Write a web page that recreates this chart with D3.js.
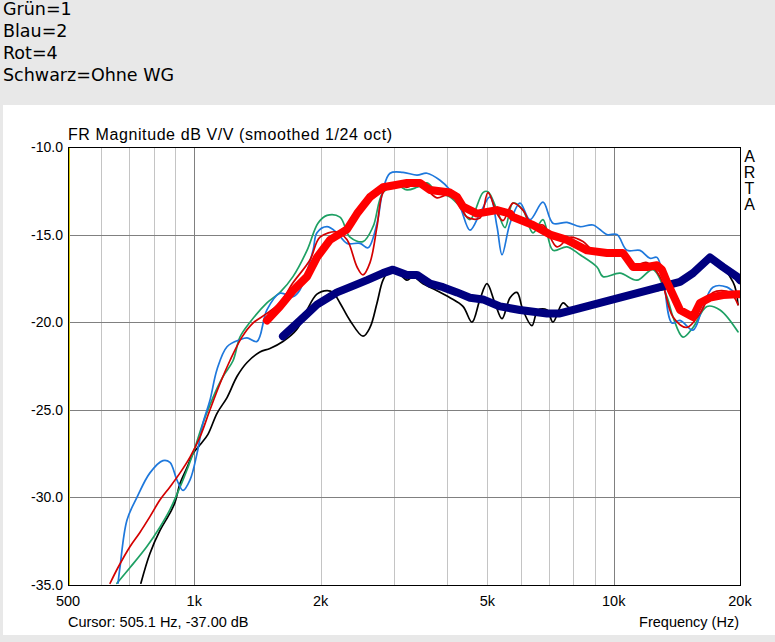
<!DOCTYPE html>
<html>
<head>
<meta charset="utf-8">
<script src="https://cdn.jsdelivr.net/npm/d3@7"></script>
<style>
  body { margin: 0; background: #e8e8e8; }
  svg { display: block; }
</style>
</head>
<body>
<div id="chart"></div>
<script>
// legend lines above the plot
const notes = ["Grün=1", "Blau=2", "Rot=4", "Schwarz=Ohne WG"];

const yTicks = [-10, -15, -20, -25, -30, -35];
const xTicks = [500, 1000, 2000, 5000, 10000, 20000];
const xTickLabels = ["500", "1k", "2k", "5k", "10k", "20k"];
const minorGrid = [600, 700, 800, 900, 2000, 3000, 4000, 5000, 6000, 7000, 8000, 9000];
const majorGrid = [1000, 10000];

// [frequency Hz, dB]
const black = [[746,-34.9],[784,-33.2],[828,-31.9],[875,-30.9],[899,-30.3],[925,-29.2],[961,-28.3],[993,-27.5],
  [1032,-27.0],[1078,-26.4],[1133,-25.2],[1197,-24.3],[1264,-23.1],[1336,-22.3],[1434,-21.7],[1515,-21.5],
  [1627,-21.1],[1757,-20.4],[1857,-19.3],[1961,-18.4],[2072,-18.2],[2141,-18.3],[2225,-18.9],[2351,-19.9],
  [2525,-20.8],[2624,-20.3],[2727,-18.9],[2818,-17.6],[2929,-17.0],[3043,-17.1],[3215,-17.6],[3323,-17.4],
  [3510,-17.8],[3790,-18.2],[4070,-18.6],[4371,-19.1],[4593,-20.0],[4798,-18.7],[4986,-17.8],[5209,-18.9],
  [5416,-19.8],[5660,-18.6],[5879,-18.3],[6074,-19.3],[6383,-20.2],[6597,-19.3],[6933,-19.3],[7163,-20.0],
  [7568,-18.9],[7866,-19.2],[9273,-19.0],[11548,-18.4],[14386,-17.8],[16961,-16.3],[19243,-17.7],[19778,-19.0]];

const navy = [[1627,-20.8],[1787,-19.9],[1961,-19.0],[2189,-18.3],[2351,-18.0],[2582,-17.6],[2818,-17.2],
  [2977,-17.0],[3215,-17.3],[3396,-17.3],[3648,-17.8],[3917,-18.0],[4230,-18.3],[4543,-18.6],[4878,-18.7],
  [5357,-19.1],[5977,-19.3],[6933,-19.5],[7444,-19.5],[8311,-19.2],[9273,-18.9],[10349,-18.6],[11548,-18.3],
  [12888,-18.0],[14386,-17.7],[15452,-17.2],[16961,-16.3],[18217,-16.85],[19670,-17.4],[20000,-17.6]];

const redThick = [[1490,-19.9],[1601,-19.1],[1719,-18.2],[1857,-17.4],[1961,-16.3],[2107,-15.3],[2313,-14.7],
  [2444,-13.8],[2624,-12.85],[2818,-12.3],[2977,-12.2],[3215,-12.05],[3453,-12.05],[3648,-12.45],[4070,-12.6],
  [4230,-12.85],[4371,-13.4],[4721,-13.8],[5270,-13.6],[5660,-13.8],[5751,-14.0],[6419,-14.45],[7048,-15.0],
  [7736,-15.3],[8637,-15.9],[9636,-16.05],[10521,-16.05],[11115,-16.85],[12001,-16.85],[12678,-16.75],
  [13031,-17.0],[13394,-17.7],[14386,-19.3],[15452,-19.7],[16053,-18.9],[16961,-18.6],[18217,-18.45],
  [19670,-18.4],[20000,-18.4]];

const red = [[630,-34.9],[658,-34.0],[703,-32.8],[742,-32.0],[784,-31.1],[828,-30.15],[875,-29.4],[925,-28.6],
  [977,-27.7],[1032,-26.55],[1090,-25.0],[1152,-23.5],[1216,-22.2],[1299,-20.85],[1380,-20.05],[1490,-19.5],
  [1601,-18.9],[1719,-17.75],[1887,-16.45],[1994,-15.15],[2189,-14.85],[2313,-15.3],[2444,-16.85],[2525,-17.3],
  [2624,-16.6],[2727,-14.55],[2818,-12.6],[2977,-12.05],[3215,-12.3],[3396,-12.05],[3588,-12.45],[3790,-12.9],
  [4004,-12.75],[4230,-13.0],[4468,-14.0],[4798,-14.05],[5014,-12.6],[5270,-13.8],[5447,-14.2],[5751,-13.2],
  [6074,-13.6],[6419,-14.55],[6781,-14.45],[7323,-15.7],[7866,-15.15],[8449,-15.4],[8926,-15.9],[9636,-16.0],
  [10521,-16.0],[11115,-16.75],[12001,-16.6],[12888,-17.4],[13845,-19.7],[14948,-20.3],[16053,-19.5],
  [17243,-18.3],[18930,-18.3],[19778,-19.0]];

const green = [[654,-34.9],[703,-34.0],[771,-32.8],[828,-31.7],[875,-30.7],[940,-29.0],[993,-27.5],[1049,-25.75],
  [1108,-24.3],[1171,-23.1],[1237,-22.2],[1285,-20.85],[1358,-20.0],[1490,-18.9],[1601,-18.3],[1719,-17.4],
  [1857,-15.9],[1972,-14.35],[2072,-13.9],[2225,-14.0],[2351,-15.15],[2525,-15.4],[2668,-14.55],[2818,-12.6],
  [3043,-12.2],[3215,-12.45],[3396,-12.3],[3588,-12.05],[3790,-12.6],[4070,-12.85],[4300,-13.4],[4543,-14.15],
  [4878,-12.6],[5014,-12.55],[5270,-13.6],[5507,-14.6],[5751,-13.2],[6074,-13.6],[6419,-14.9],[6781,-14.15],
  [7163,-15.9],[7736,-15.7],[8311,-16.15],[9122,-16.85],[9427,-17.4],[10349,-17.2],[11362,-17.6],[12402,-17.0],
  [13394,-18.55],[13845,-19.7],[14624,-20.85],[15452,-20.3],[16684,-19.1],[17920,-19.3],[19778,-20.55]];

const blue = [[658,-34.9],[665,-34.0],[691,-31.3],[730,-30.0],[784,-28.6],[842,-27.9],[875,-28.0],[909,-29.0],
  [940,-29.6],[977,-29.0],[1015,-27.5],[1049,-25.75],[1090,-24.45],[1133,-22.7],[1197,-21.4],[1285,-21.0],
  [1336,-20.9],[1411,-21.1],[1490,-19.3],[1601,-18.35],[1719,-18.55],[1787,-18.15],[1919,-15.9],[1961,-14.9],
  [2072,-14.55],[2189,-14.9],[2313,-15.5],[2484,-15.5],[2596,-15.75],[2727,-14.35],[2818,-12.45],[2929,-11.5],
  [3145,-11.45],[3396,-11.6],[3588,-11.5],[3853,-11.9],[4070,-12.45],[4300,-13.4],[4543,-14.75],[4798,-13.8],
  [5070,-12.85],[5270,-14.55],[5416,-16.15],[5660,-14.35],[5977,-13.2],[6313,-14.15],[6781,-13.15],[7163,-14.35],
  [7736,-14.3],[8311,-14.55],[8926,-14.45],[9636,-15.0],[10180,-15.0],[10755,-15.9],[11548,-15.9],[12200,-16.35],
  [12678,-16.3],[13103,-17.4],[13769,-20.05],[14386,-19.9],[15452,-20.45],[16229,-19.3],[17243,-18.0],
  [18621,-18.0],[19778,-18.55]];

const width = 775, height = 642;
const pLeft = 68, pRight = 740, pTop = 147, pBottom = 585;

const svg = d3.select("#chart")
    .append("svg")
    .attr("width", width)
    .attr("height", height);

svg.append("rect").attr("width", width).attr("height", height).attr("fill", "#e8e8e8");
svg.append("rect")
    .attr("x", 3).attr("y", 105)
    .attr("width", width - 3).attr("height", 530)
    .attr("fill", "#ffffff");

svg.selectAll("text.note")
    .data(notes)
    .enter().append("text")
    .attr("class", "note")
    .attr("x", 3)
    .attr("y", (d, i) => 14.5 + i * 22)
    .attr("font-family", "DejaVu Sans, Verdana, sans-serif")
    .attr("font-size", 17.5)
    .attr("fill", "#000")
    .text(d => d);

const x = d3.scaleLog().domain([500, 20000]).range([pLeft, pRight]);
const y = d3.scaleLinear().domain([-35, -10]).range([pBottom, pTop]);

const grid = svg.append("g");
grid.selectAll("line.minor")
    .data(minorGrid)
    .enter().append("line")
    .attr("x1", d => Math.round(x(d)) + 0.5).attr("x2", d => Math.round(x(d)) + 0.5)
    .attr("y1", pTop).attr("y2", pBottom)
    .attr("stroke", "#c4c4c4");
grid.selectAll("line.major")
    .data(majorGrid)
    .enter().append("line")
    .attr("x1", d => Math.round(x(d)) + 0.5).attr("x2", d => Math.round(x(d)) + 0.5)
    .attr("y1", pTop).attr("y2", pBottom)
    .attr("stroke", "#808080");
grid.selectAll("line.h")
    .data(yTicks.slice(1, -1))
    .enter().append("line")
    .attr("x1", pLeft).attr("x2", pRight)
    .attr("y1", d => Math.round(y(d)) + 0.5).attr("y2", d => Math.round(y(d)) + 0.5)
    .attr("stroke", "#808080");

// clip curves to plot area
svg.append("clipPath").attr("id", "plot")
    .append("rect").attr("x", pLeft).attr("y", pTop)
    .attr("width", pRight - pLeft).attr("height", pBottom - pTop);

const thin = d3.line().x(d => x(d[0])).y(d => y(d[1])).curve(d3.curveCatmullRom.alpha(0.5));
const thick = d3.line().x(d => x(d[0])).y(d => y(d[1])).curve(d3.curveLinear);

const curves = svg.append("g").attr("clip-path", "url(#plot)");
const series = [
    { data: black, color: "#000000", w: 1.7, line: thin },
    { data: green, color: "#1ea064", w: 1.7, line: thin },
    { data: blue, color: "#1e78dc", w: 1.7, line: thin },
    { data: red, color: "#d40000", w: 1.7, line: thin },
    { data: navy, color: "#00007f", w: 8, line: thick },
    { data: redThick, color: "#ff0000", w: 8, line: thick }
];
series.forEach(s => {
    curves.append("path")
        .attr("d", s.line(s.data))
        .attr("fill", "none")
        .attr("stroke", s.color)
        .attr("stroke-width", s.w)
        .attr("stroke-linejoin", "round")
        .attr("stroke-linecap", "round");
});

// frame
svg.append("rect")
    .attr("x", pLeft + 0.5).attr("y", pTop + 0.5)
    .attr("width", pRight - pLeft).attr("height", pBottom - pTop)
    .attr("fill", "none").attr("stroke", "#000");
svg.append("line")
    .attr("x1", pLeft + 1.5).attr("x2", pLeft + 1.5)
    .attr("y1", pTop + 1).attr("y2", pBottom)
    .attr("stroke", "#d8c800");

const font = "Arial, Liberation Sans, sans-serif";

svg.selectAll("text.ytick")
    .data(yTicks)
    .enter().append("text")
    .attr("x", 63)
    .attr("y", d => y(d) + 5)
    .attr("text-anchor", "end")
    .attr("font-family", font).attr("font-size", 14)
    .text(d => d.toFixed(1));

svg.selectAll("text.xtick")
    .data(xTicks)
    .enter().append("text")
    .attr("x", d => x(d))
    .attr("y", 606)
    .attr("text-anchor", "middle")
    .attr("font-family", font).attr("font-size", 14.5)
    .text((d, i) => xTickLabels[i]);

svg.append("text")
    .attr("x", 68).attr("y", 140)
    .attr("font-family", font).attr("font-size", 16)
    .attr("textLength", 324)
    .text("FR Magnitude dB V/V (smoothed 1/24 oct)");

svg.append("text")
    .attr("x", 68).attr("y", 627)
    .attr("font-family", font).attr("font-size", 14.5)
    .text("Cursor: 505.1 Hz, -37.00 dB");

svg.append("text")
    .attr("x", 739).attr("y", 627)
    .attr("text-anchor", "end")
    .attr("font-family", font).attr("font-size", 14.5)
    .text("Frequency (Hz)");

svg.selectAll("text.arta")
    .data(["A", "R", "T", "A"])
    .enter().append("text")
    .attr("x", 749.5)
    .attr("y", (d, i) => 162 + i * 16)
    .attr("text-anchor", "middle")
    .attr("font-family", font).attr("font-size", 16)
    .text(d => d);
</script>
</body>
</html>
